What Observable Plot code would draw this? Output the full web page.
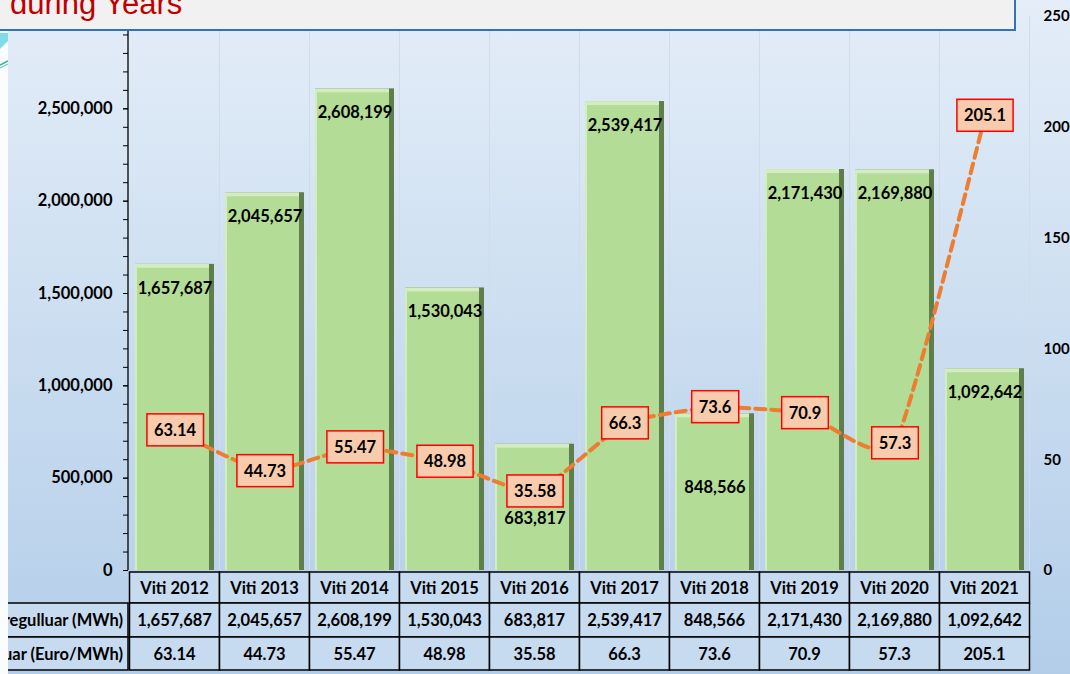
<!DOCTYPE html>
<html>
<head>
<meta charset="utf-8">
<script src="https://cdn.jsdelivr.net/npm/d3@7"></script>
<script src="https://cdn.jsdelivr.net/npm/@observablehq/plot@0.6"></script>
<style>
  body { margin: 0; background: #ffffff; }
  #wrap { position: relative; width: 1070px; height: 674px; overflow: hidden;
          background: linear-gradient(180deg, #e4edf8 0%, #cddff1 45%, #b3cde9 100%); }
  #chart { position: absolute; left: 0; top: 0; }
  #strip { position: absolute; left: 0; top: 31px; width: 8px; height: 643px; }
  #titlebox { position: absolute; left: 0; top: 0; width: 1014px; height: 29px;
              background: #f1f1f1; border-bottom: 2px solid #2e75b6; border-right: 2px solid #2e75b6; overflow: hidden; }
</style>
</head>
<body>
<div id="wrap">
  <div id="chart"></div>
  <svg id="strip" width="8" height="643">
    <rect x="0" y="0" width="8" height="643" fill="#fbfcfd"></rect>
    <polygon points="0,2 8,2 8,10 0,18" fill="#7fdbe6"></polygon>
    <line x1="0" y1="34" x2="8" y2="30" stroke="#2bb39a" stroke-width="1.5"></line>
    <line x1="0" y1="37" x2="8" y2="33" stroke="#4cc7b0" stroke-width="1"></line>
  </svg>
  <div id="titlebox">
    <svg width="1014" height="29"><text x="10" y="14" font-family="'Liberation Sans', Arial, sans-serif" font-size="31" fill="#c00000">during Years</text></svg>
  </div>
</div>
<script>
// ---- data ----
const years = ["Viti 2012", "Viti 2013", "Viti 2014", "Viti 2015", "Viti 2016",
               "Viti 2017", "Viti 2018", "Viti 2019", "Viti 2020", "Viti 2021"];
const energy = [1657687, 2045657, 2608199, 1530043, 683817, 2539417, 848566, 2171430, 2169880, 1092642];
const price = [63.14, 44.73, 55.47, 48.98, 35.58, 66.3, 73.6, 70.9, 57.3, 205.1];
const rowLabels = ["regulluar (MWh)", "uar (Euro/MWh)"];
const leftTicks = [0, 500000, 1000000, 1500000, 2000000, 2500000];
const rightTicks = [0, 50, 100, 150, 200, 250];
const leftMax = 3000000, rightMax = 250;

// ---- layout ----
const FONT = 'Lato, "Open Sans", sans-serif';
const W = 1070, H = 674, mT = 16, mB = 104, mL = 128, mR = 40;
const K = leftMax / rightMax;
const fmt = d3.format(",");
const yPix = d3.scaleLinear([0, leftMax], [H - mB, mT]);

const data = years.map((c, i) => ({cat: c, energy: energy[i], price: price[i], pk: price[i] * K}));
const lowLabel = d => Math.abs((yPix(d.energy) + 24) - yPix(d.pk)) < 34;

const plot = Plot.plot({
  width: W, height: H,
  marginTop: mT, marginBottom: mB, marginLeft: mL, marginRight: mR,
  style: {background: "transparent", fontFamily: FONT, fontSize: "16.5px", fontWeight: "bold", color: "#000"},
  x: {domain: years, paddingInner: 0.124, paddingOuter: 0.062, axis: null},
  y: {domain: [0, leftMax], axis: null},
  marks: [
    Plot.barY(data, {x: "cat", y: "energy", fill: "#5f7e4a"}),
    Plot.barY(data, {x: "cat", y: "energy", fill: "#d3ecc0", insetRight: 5}),
    Plot.barY(data, {x: "cat", y: "energy", fill: "#b3dc96", insetLeft: 2, insetRight: 5, insetTop: 4}),
    Plot.axisY(d3.ticks(0, leftMax, 30), {anchor: "left", tickSize: 5, tickFormat: () => "", stroke: "#000"}),
    Plot.axisY(leftTicks, {anchor: "left", tickSize: 5, tickPadding: 11, tickFormat: fmt, stroke: "#000"}),
    Plot.axisY(rightTicks.map(v => v * K), {anchor: "right", tickSize: 0, tickPadding: 13, fontSize: 15, tickFormat: d => d / K}),
    Plot.line(data, {x: "cat", y: "pk", stroke: "#ed7d31", strokeWidth: 4, strokeDasharray: "10,6", curve: "cardinal", tension: 0.5}),
    Plot.text(data.filter(d => !lowLabel(d)), {x: "cat", y: "energy", text: d => fmt(d.energy), dy: 24}),
    Plot.text(data.filter(lowLabel), {x: "cat", y: "energy", text: d => fmt(d.energy), dy: 74}),
    Plot.text(data, {x: "cat", y: "pk", text: d => String(d.price), className: "plab"})
  ]
});

document.getElementById("chart").append(plot);
const svg = d3.select(plot);
const xs = plot.scale("x");
const step = xs.step, bw = xs.bandwidth;
const slotLeft = c => xs.apply(c) - (step - bw) / 2;
const y0 = H - mB;

// vertical gridlines at category boundaries (behind everything)
const grid = svg.insert("g", ":first-child");
years.forEach((c, i) => {
  if (i > 0) grid.append("line").attr("x1", slotLeft(c)).attr("x2", slotLeft(c)).attr("y1", mT).attr("y2", y0)
    .attr("stroke", "#d3dce6").attr("stroke-width", 1);
});
const xEnd = slotLeft(years[years.length - 1]) + step;
grid.append("line").attr("x1", xEnd).attr("x2", xEnd).attr("y1", mT).attr("y2", y0).attr("stroke", "#d3dce6");

// left axis line
svg.append("line").attr("x1", mL).attr("x2", mL).attr("y1", mT).attr("y2", y0).attr("stroke", "#000").attr("stroke-width", 1.3);

// price label boxes
svg.selectAll("g.plab text").each(function() {
  const b = this.getBBox();
  const r = d3.select(this.parentNode).insert("rect", () => this)
    .attr("x", b.x - 7).attr("y", b.y - 6).attr("width", b.width + 14).attr("height", b.height + 12)
    .attr("fill", "#f8cbad").attr("stroke", "#ff0000").attr("stroke-width", 1.5);
  const t = this.getAttribute("transform");
  if (t) r.attr("transform", t);
});

// data table below the chart
const rowsY = [y0 + 2, y0 + 33, y0 + 67, y0 + 100];
const table = svg.append("g").attr("font-family", FONT).attr("font-size", 16.5).attr("font-weight", "bold");
const rowsText = [years, energy.map(fmt), price.map(String)];
for (let r = 0; r < 3; r++) {
  const ya = rowsY[r], yb = rowsY[r + 1];
  if (r > 0) {
    table.append("rect").attr("x", -300).attr("y", ya).attr("width", 300 + mL).attr("height", yb - ya)
      .attr("fill", "#c6dbf0").attr("stroke", "#000").attr("stroke-width", 1.5);
    table.append("text").attr("x", mL - 5).attr("y", (ya + yb) / 2).attr("text-anchor", "end")
      .attr("dominant-baseline", "central").text(rowLabels[r - 1]);
  }
  years.forEach((c, i) => {
    table.append("rect").attr("x", slotLeft(c)).attr("y", ya).attr("width", step).attr("height", yb - ya)
      .attr("fill", "#c6dbf0").attr("stroke", "#000").attr("stroke-width", 1.5);
    table.append("text").attr("x", slotLeft(c) + step / 2).attr("y", (ya + yb) / 2)
      .attr("text-anchor", "middle").attr("dominant-baseline", "central").text(rowsText[r][i]);
  });
}
</script>
</body>
</html>
